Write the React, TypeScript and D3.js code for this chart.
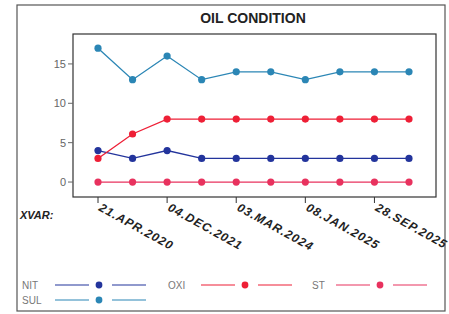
import React from "react";
import * as d3 from "d3";

// sample index (10 samples), only every other one gets a date label
const SAMPLES = ["0", "1", "2", "3", "4", "5", "6", "7", "8", "9"];
const TICK_SAMPLES = ["0", "2", "4", "6", "8"];
const TICK_LABELS = ["21.APR.2020", "04.DEC.2021", "03.MAR.2024", "08.JAN.2025", "28.SEP.2025"];

const NIT = [4, 3, 4, 3, 3, 3, 3, 3, 3, 3];
const SUL = [17, 13, 16, 13, 14, 14, 13, 14, 14, 14];
const OXI = [3, 6.1, 8, 8, 8, 8, 8, 8, 8, 8];
const ST = [0, 0, 0, 0, 0, 0, 0, 0, 0, 0];
const Y_TICKS = [0, 5, 10, 15];

const SERIES = [
  { name: "NIT", values: NIT, color: "#23349c" },
  { name: "SUL", values: SUL, color: "#2b86b5" },
  { name: "OXI", values: OXI, color: "#ee1f36" },
  { name: "ST", values: ST, color: "#e8325e" },
];

const W = 449;
const H = 314;
const plot = { left: 73, right: 436, top: 34, bottom: 197 };
const font = "'Liberation Sans', Arial, sans-serif";

export default function App() {
  const x = d3.scalePoint<string>().domain(SAMPLES).range([98, 409]);
  const y = d3.scaleLinear().domain([-1.9, 18.8]).range([plot.bottom, plot.top]);
  const line = d3.line<number>().x((_, i) => x(SAMPLES[i]) as number).y((d) => y(d));

  // legend layout: [series index, x of label, y of row]
  const legendPos = [
    { s: 0, lx: 22, ly: 285 },
    { s: 1, lx: 22, ly: 300 },
    { s: 2, lx: 168, ly: 285 },
    { s: 3, lx: 312, ly: 285 },
  ];

  return (
    <svg width={W} height={H} style={{ position: "absolute", left: 0, top: 0, background: "#fff" }}>
      <rect x={17} y={5} width={428} height={306} fill="none" stroke="#555" strokeWidth={1.2} />
      <text x={253} y={23} textAnchor="middle" fontFamily={font} fontWeight="bold" fontSize={14} fill="#222">
        OIL CONDITION
      </text>
      <rect x={plot.left} y={plot.top} width={plot.right - plot.left} height={plot.bottom - plot.top}
        fill="none" stroke="#333" strokeWidth={1.2} />

      {Y_TICKS.map((t) => (
        <g key={t}>
          <line x1={plot.left - 5} x2={plot.left} y1={y(t)} y2={y(t)} stroke="#666" />
          <text x={plot.left - 7} y={y(t) + 4} textAnchor="end" fontFamily={font} fontSize={11} fill="#666">
            {t}
          </text>
        </g>
      ))}

      {TICK_SAMPLES.map((s, i) => {
        const px = x(s) as number;
        return (
          <g key={s}>
            <line x1={px} x2={px} y1={plot.bottom} y2={plot.bottom + 6} stroke="#333" />
            <text transform={`translate(${px},${plot.bottom + 13}) rotate(29)`} fontFamily={font}
              fontWeight="bold" fontStyle="italic" fontSize={12} letterSpacing={1} fill="#222">
              {TICK_LABELS[i]}
            </text>
          </g>
        );
      })}
      <text x={20} y={219} fontFamily={font} fontWeight="bold" fontStyle="italic" fontSize={11} fill="#222">
        XVAR:
      </text>

      {SERIES.map((s) => (
        <g key={s.name}>
          <path d={line(s.values) as string} fill="none" stroke={s.color} strokeWidth={1.3} />
          {s.values.map((v, i) => (
            <circle key={i} cx={x(SAMPLES[i])} cy={y(v)} r={3.6} fill={s.color} />
          ))}
        </g>
      ))}

      {legendPos.map(({ s, lx, ly }) => {
        const ser = SERIES[s];
        const lineStart = ser.name === "ST" ? lx + 24 : lx + 33;
        return (
          <g key={ser.name}>
            <text x={lx} y={ly + 4} fontFamily={font} fontSize={10} fill="#777">{ser.name}</text>
            <line x1={lineStart} x2={lineStart + 34} y1={ly} y2={ly} stroke={ser.color} strokeWidth={1.1} />
            <circle cx={lineStart + 44} cy={ly} r={3.4} fill={ser.color} />
            <line x1={lineStart + 57} x2={lineStart + 91} y1={ly} y2={ly} stroke={ser.color} strokeWidth={1.1} />
          </g>
        );
      })}
    </svg>
  );
}
